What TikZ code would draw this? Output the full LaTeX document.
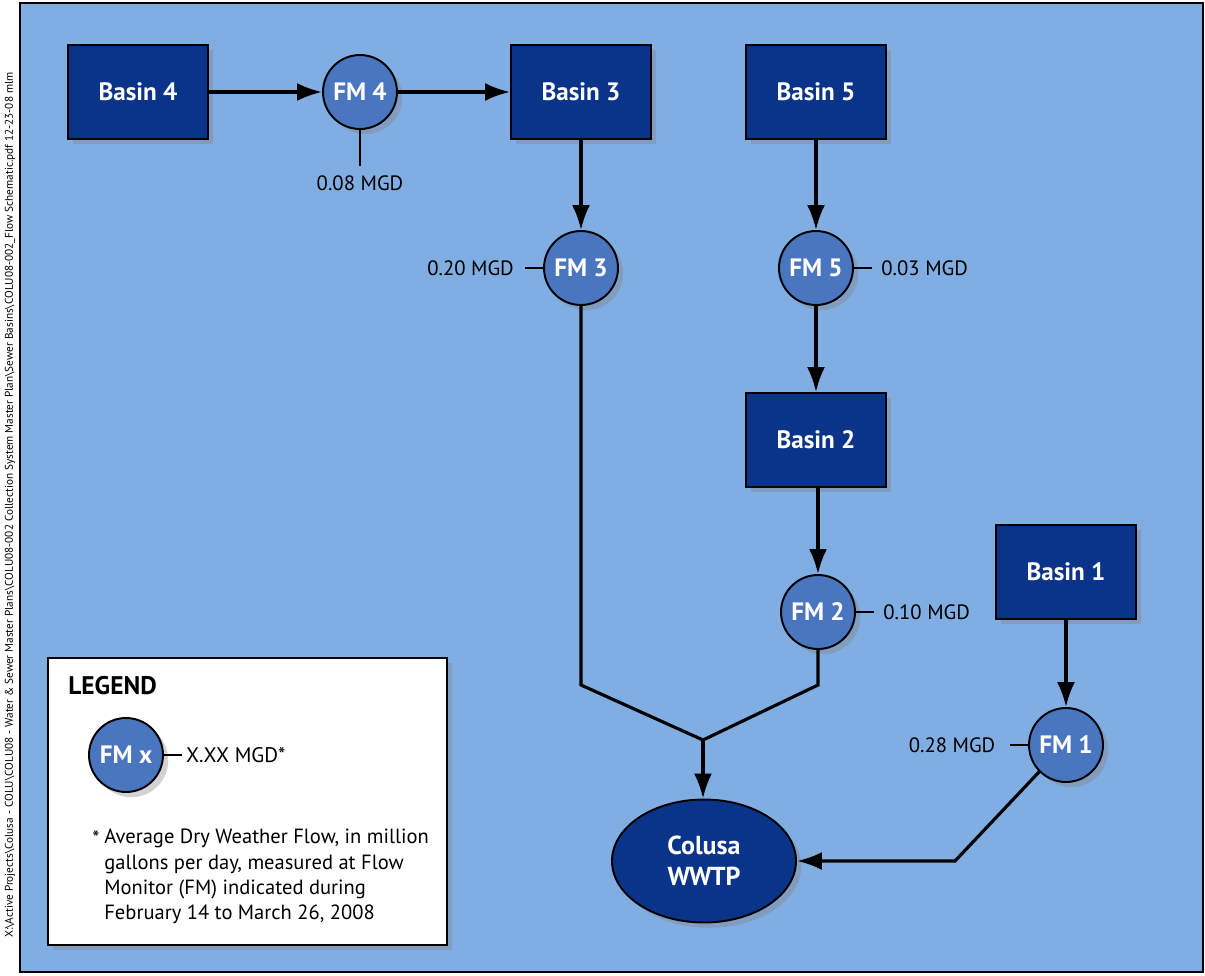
\documentclass[tikz,border=0pt]{standalone}
\usepackage{fontspec}
\setmainfont{PT Sans}
\usetikzlibrary{arrows.meta,shapes.geometric,shadows}
\definecolor{wash}{RGB}{128,174,226}
\definecolor{basinblue}{RGB}{10,52,138}
\definecolor{meterblue}{RGB}{74,118,192}

\begin{document}
\begin{tikzpicture}[x=0.02cm,y=-0.02cm,
    boxshadow/.style={drop shadow={opacity=0.35, shadow xshift=3pt, shadow yshift=-3pt}},
    basin/.style={draw=black, line width=1.1pt, fill=basinblue, text=white,
        font=\fontsize{14.3}{16}\selectfont\bfseries, minimum width=2.8cm, minimum height=1.88cm, boxshadow},
    meter/.style={circle, draw=black, line width=1.1pt, fill=meterblue, text=white,
        font=\fontsize{14.3}{16}\selectfont\bfseries, minimum size=1.48cm, inner sep=0pt, boxshadow},
    plant/.style={ellipse, draw=black, line width=1.1pt, fill=basinblue, text=white, align=center,
        font=\fontsize{14.8}{17.5}\selectfont\bfseries, minimum width=3.68cm, minimum height=2.46cm, inner sep=0pt, boxshadow},
    pipe/.style={line width=1.8pt},
    flow/.style={pipe, -{Latex[length=5mm,width=3.6mm]}},
    tick/.style={line width=0.8pt},
    mgd/.style={font=\fontsize{11.8}{14}\selectfont, inner sep=2pt}]
    \useasboundingbox (0,0) rectangle (1205,975);
    \def\tk{18}
    % background sheet and file path
    \draw[fill=wash, line width=1pt] (20,3) rectangle (1203,972);
    \node[rotate=90, font=\fontsize{6.4}{7}\selectfont, inner sep=0pt] (path) at (10,505)
        {X:\textbackslash Active Projects\textbackslash Colusa - COLU\textbackslash COLU08 - Water \& Sewer Master Plans\textbackslash COLU08-002 Collection System Master Plan\textbackslash Sewer Basins\textbackslash COLU08-002\_Flow Schematic.pdf 12-23-08 mlm};

    % basins and flow monitors
    \node[basin] (b4) at (138,92) {Basin 4};
    \node[meter] (fm4) at (360,92) {FM 4};
    \node[basin] (b3) at (581,92) {Basin 3};
    \node[basin] (b5) at (816,92) {Basin 5};
    \node[meter] (fm3) at (581,268) {FM 3};
    \node[meter] (fm5) at (816,268) {FM 5};
    \node[basin] (b2) at (816,440) {Basin 2};
    \node[meter] (fm2) at (818,612) {FM 2};
    \node[basin] (b1) at (1066,572) {Basin 1};
    \node[meter] (fm1) at (1066,745) {FM 1};
    \node[plant] (wwtp) at (704,861) {Colusa\\WWTP};

    % flow arrows
    \draw[flow] (b4) -- (fm4);
    \draw[flow] (fm4) -- (b3);
    \draw[flow] (b3) -- (fm3);
    \draw[flow] (b5) -- (fm5);
    \draw[flow] (fm5) -- (b2);
    \draw[flow] (b2.south -| fm2) -- (fm2);
    \draw[flow] (b1) -- (fm1);
    \coordinate (j3) at (581,685);
    \coordinate (j2) at (818,685);
    \coordinate (jn) at (703,740);
    \coordinate (k1) at (955,861);
    \draw[pipe, line join=miter] (fm3.south) -- (j3) -- (jn) -- (j2) -- (fm2.south);
    \draw[flow] (jn) -- (wwtp.north -| jn);
    \draw[flow, line join=miter] (fm1.south west) -- (k1) -- (wwtp.east);

    % measured flows
    \draw[tick] (fm4.south) -- ++(0,36) node[mgd, below, inner sep=5pt] (q4) {0.08 MGD};
    \draw[tick] (fm3.west) -- ++(-\tk,0) node[mgd, left, inner sep=6pt] (q3) {0.20 MGD};
    \draw[tick] (fm5.east) -- ++(\tk,0) node[mgd, right, inner sep=5pt] (q5) {0.03 MGD};
    \draw[tick] (fm2.east) -- ++(\tk,0) node[mgd, right, inner sep=5pt] (q2) {0.10 MGD};
    \draw[tick] (fm1.west) -- ++(-\tk,0) node[mgd, left, inner sep=8pt] (q1) {0.28 MGD};

    % legend
    \draw[fill=white, line width=1pt, boxshadow] (48,658) rectangle (447,945);
    \node[anchor=base west, inner sep=0pt, font=\fontsize{14.5}{16}\selectfont\bfseries] (lgd) at (68,694) {LEGEND};
    \node[meter] (fmx) at (126,755) {FM x};
    \draw[tick] (fmx.east) -- ++(\tk,0) node[mgd, right, font=\fontsize{12}{14}\selectfont] (qx) {X.XX MGD*};
    \node[anchor=north east, inner sep=0pt, font=\fontsize{11.7}{14}\selectfont] (star) at (100,830) {*};
    \node[anchor=north west, inner sep=0pt, align=left, font=\fontsize{11.7}{14.3}\selectfont] (note) at (104,829)
        {Average Dry Weather Flow, in million\\gallons per day, measured at Flow\\Monitor (FM) indicated during\\February 14 to March 26, 2008};
\end{tikzpicture}
\end{document}
